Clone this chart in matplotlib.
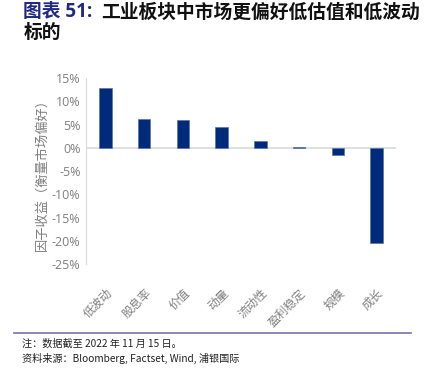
import matplotlib
matplotlib.use("Agg")
import matplotlib.pyplot as plt
from matplotlib.lines import Line2D

plt.rcParams['font.family'] = ['Noto Sans CJK SC', 'DejaVu Sans']

# factor returns (%)
factors = ['低波动', '股息率', '价值', '动量', '流动性', '盈利稳定', '规模', '成长']
returns = [12.8, 6.1, 5.9, 4.5, 1.4, 0.1, -1.6, -20.4]
yticks = [15, 10, 5, 0, -5, -10, -15, -20, -25]

bar_color = '#002b7a'
grey = '#7f7f7f'

fig = plt.figure(figsize=(4.24, 3.70), dpi=100)
ax = fig.add_axes([0.203, 0.286, 0.731, 0.503])

x = range(len(factors))
ax.bar(x, returns, width=0.32, color=bar_color, edgecolor='#5a74a8', linewidth=0.5, zorder=3)
ax.axhline(0, color='#d9d9d9', linewidth=1.2, zorder=2)

ax.set_xlim(-0.5, len(factors) - 0.5)
ax.set_ylim(-25, 15)
ax.set_yticks(yticks)
ax.set_yticklabels([f'{v}%' for v in yticks], family=['Open Sans', 'DejaVu Sans'],
                   fontsize=9, color=grey)
ax.set_xticks(list(x))
ax.set_xticklabels(factors, rotation=45, ha='right', rotation_mode='anchor',
                   fontsize=8.5, color=grey)
ax.tick_params(axis='both', length=0)
ax.tick_params(axis='x', pad=16)
ax.tick_params(axis='y', pad=4)

for s in ['top', 'right', 'bottom']:
    ax.spines[s].set_visible(False)
ax.spines['left'].set_color('#d9d9d9')

ax.set_ylabel('因子收益（衡量市场偏好）', fontsize=9.5, color=grey, labelpad=2)

# title
fig.text(0.055, 0.968, '图表 51:', fontsize=13.5, fontweight='bold', color='#1f2a80',
         va='center', family=['Open Sans', 'Noto Sans CJK SC'])
fig.text(0.238, 0.968, '工业板块中市场更偏好低估值和低波动', fontsize=13.5,
         fontweight='semibold', color='#111111', va='center')
fig.text(0.055, 0.912, '标的', fontsize=13.5, fontweight='semibold', color='#111111', va='center')

# footer
fig.add_artist(Line2D([0.033, 0.97], [0.099, 0.099], transform=fig.transFigure,
                      color='#7a72a8', linewidth=1.2))
fig.text(0.052, 0.072, '注：数据截至 2022 年 11 月 15 日。', fontsize=7.3, color='#222222', va='center')
fig.text(0.052, 0.030, '资料来源：Bloomberg, Factset, Wind, 浦银国际', fontsize=7.3,
         color='#222222', va='center')

fig.savefig('out.png', dpi=100)
